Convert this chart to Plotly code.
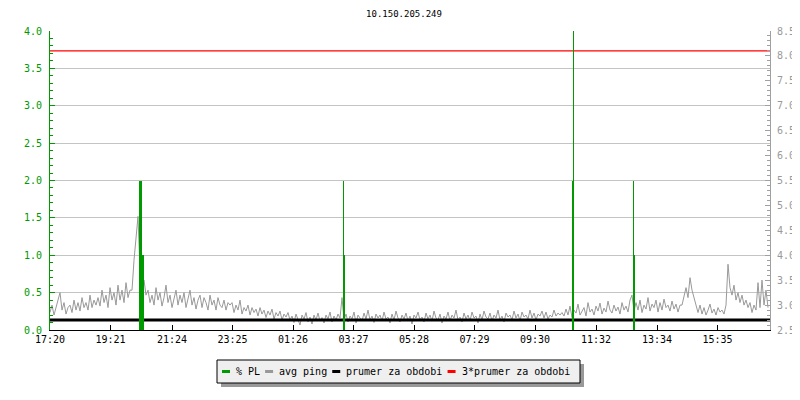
import plotly.graph_objects as go

# ---------------- data ----------------
title_text = "10.150.205.249"

# x tick labels (minutes after 17:20 and their clock labels)
tick_minutes = [0, 121, 244, 365, 486, 607, 728, 849, 970, 1092, 1214, 1335]
tick_labels = ["17:20", "19:21", "21:24", "23:25", "01:26", "03:27",
               "05:28", "07:29", "09:30", "11:32", "13:34", "15:35"]

# avg ping [ms], one sample every 4 minutes starting 17:20 (right axis)
ping_step_min = 4
avg_ping = [
    # 17:20 - 18:56
    2.85, 3.0, 2.8, 2.95, 3.1, 3.25, 2.9, 3.05, 2.82, 2.95, 3.0, 2.85, 3.1, 2.9, 3.05, 2.88,
    3.15, 2.95, 3.05, 2.9, 3.2, 2.95, 3.1, 3.0, 3.15,
    # 19:00 - 20:00
    2.98, 3.3, 3.05, 3.2, 2.95, 3.35, 3.1, 3.25, 3.0, 3.4, 3.1, 3.3, 3.05, 3.45, 3.15, 3.3,
    # peak around 20:30
    3.3, 3.9, 4.3, 4.78,
    3.7, 3.35, 3.5, 3.2,
    # 20:36 - 23:20
    3.3, 3.05, 3.2, 3.0, 3.35, 3.1, 3.25, 2.98, 3.15, 3.4, 3.05, 3.2, 2.95, 3.15, 3.3, 3.0,
    3.2, 3.05, 3.25, 2.95, 3.1, 3.3, 3.0, 3.15, 2.92, 3.1, 3.2, 2.95, 3.15, 3.05, 2.9, 3.2,
    3.0, 3.1, 2.9, 3.15, 3.0, 2.95, 3.1, 2.9, 3.05, 3.0,
    # 23:24 - 01:20
    3.05, 2.85, 3.0, 2.9, 3.1, 2.82, 2.95, 2.88, 3.0, 2.8, 2.95, 2.85, 2.92, 2.78, 2.95, 2.82,
    2.9, 2.75, 2.88, 2.8, 2.92, 2.72, 2.85, 2.78, 2.88, 2.7, 2.82, 2.76, 2.85, 2.7,
    # 01:24 - 03:00
    2.78, 2.65, 2.82, 2.7, 2.6, 2.8, 2.72, 2.85, 2.66, 2.76, 2.62, 2.8, 2.7, 2.84, 2.68, 2.75,
    2.64, 2.8, 2.72, 2.86, 2.66, 2.78, 2.7, 2.82, 2.74,
    # 03:04
    3.15,
    # 03:08 - 10:20
    2.7, 2.82, 2.66, 2.78, 2.72, 2.86, 2.64, 2.8, 2.74, 2.68, 2.84, 2.72, 2.9, 2.7, 2.78, 2.65,
    2.82, 2.74, 2.8, 2.68, 2.86, 2.72, 2.76, 2.64, 2.82, 2.7, 2.88, 2.74, 2.66, 2.8, 2.72, 2.84,
    2.68, 2.78, 2.62, 2.8, 2.74, 2.86, 2.7, 2.76, 2.66, 2.84, 2.72, 2.8, 2.68, 2.88, 2.74, 2.7,
    2.82, 2.64, 2.78, 2.72, 2.86, 2.68, 2.8, 2.74, 2.9, 2.7, 2.76, 2.66, 2.84, 2.72, 2.8, 2.68,
    2.86, 2.74, 2.78, 2.64, 2.82, 2.7, 2.88, 2.76, 2.72, 2.84, 2.68, 2.8, 2.74, 2.9, 2.7, 2.78,
    2.66, 2.84, 2.76, 2.8, 2.7, 2.88, 2.74, 2.82, 2.68, 2.86, 2.76, 2.8, 2.72, 2.9, 2.74, 2.84,
    2.7, 2.82, 2.78, 2.88, 2.74, 2.86, 2.72, 2.8, 2.76, 2.9, 2.78, 2.84, 2.8,
    # 10:24 - 12:40
    2.85, 2.78, 2.92, 2.8, 2.98, 2.75, 2.9, 2.84, 3.02, 2.8, 2.88, 2.95, 2.78, 3.05, 2.86, 2.92,
    2.8, 2.98, 2.88, 3.04, 2.82, 2.94, 2.86, 3.08, 2.9, 2.84, 3.0, 2.88, 2.96, 2.82, 3.05, 2.9,
    2.98, 2.86, 3.1,
    # 12:44
    3.2,
    # 12:48 - 14:20
    2.88, 3.05, 2.9, 3.1, 2.85, 3.0, 2.92, 3.15, 2.88, 3.02, 2.95, 3.1, 2.86, 3.05, 2.9, 3.12,
    2.95, 3.0, 2.88, 3.08, 2.92, 3.02, 2.86, 3.0,
    # 14:24 - 14:48
    3.0, 3.2, 3.35, 3.15, 3.55, 3.3, 3.15,
    # 14:52 - 15:52
    2.95, 2.85, 3.0, 2.82, 2.95, 2.8, 2.9, 3.02, 2.84, 2.92, 2.8, 2.95, 2.86, 2.9, 2.82, 3.0,
    # 15:56
    3.82,
    # 16:00 - 16:32
    3.35, 3.2, 3.4, 3.1, 3.25, 3.05, 3.2, 3.0, 3.1,
    # 16:36 - 17:16
    2.95, 3.05, 2.85, 3.0, 2.9, 3.45, 2.95, 3.5, 3.0, 3.3, 2.95,
]

# % packet loss (left axis): average per interval and interval maximum
pl_time = [181, 185, 588, 1046, 1168]
pl_avg = [2.0, 1.0, 1.0, 2.0, 1.0]
pl_max_time = [587, 1047, 1167]
pl_max = [2.0, 4.0, 2.0]

prumer = 2.70          # average ping over the period [ms]
trojnasobek = 3 * prumer
period_minutes = 1440

legend_names = ["% PL", "avg ping", "prumer za obdobi", "3*prumer za obdobi"]
legend_colors = ["#009900", "#999999", "#000000", "#ff0000"]

# ---------------- figure ----------------
MONO = "DejaVu Sans Mono"
GREEN = "#009900"
GRAY = "#999999"

# the page body has an 8px margin, so the figure is made 8px smaller
FIG_W, FIG_H = 792, 392
M_L, M_R, M_T, M_B = 42, 30, 23, 70

ping_time = [i * ping_step_min for i in range(len(avg_ping))]

fig = go.Figure()
fig.add_trace(go.Scatter(x=ping_time, y=avg_ping, mode="lines", name="avg ping",
                         line=dict(color=GRAY, width=1), yaxis="y", showlegend=False))
fig.add_trace(go.Scatter(x=[0, period_minutes], y=[prumer, prumer], mode="lines",
                         name="prumer za obdobi", line=dict(color="#000000", width=3),
                         yaxis="y", showlegend=False))
fig.add_trace(go.Scatter(x=[0, period_minutes], y=[trojnasobek, trojnasobek], mode="lines",
                         name="3*prumer za obdobi", line=dict(color="#ff0000", width=1.2),
                         yaxis="y", showlegend=False))
fig.add_trace(go.Bar(x=pl_max_time, y=pl_max, width=2, name="% PL max",
                     marker=dict(color=GREEN, line=dict(width=0)), yaxis="y2",
                     showlegend=False))
fig.add_trace(go.Bar(x=pl_time, y=pl_avg, width=4.5, name="% PL",
                     marker=dict(color=GREEN, line=dict(width=0)), yaxis="y2",
                     showlegend=False))

fig.update_layout(
    width=FIG_W, height=FIG_H,
    margin=dict(l=M_L, r=M_R, t=M_T, b=M_B),
    paper_bgcolor="white", plot_bgcolor="white",
    barmode="overlay", bargap=0,
    showlegend=False,
    font=dict(family=MONO, size=10, color="black"),
    title=dict(text=title_text, x=0.5, xanchor="center", y=0.985, yanchor="middle",
               xref="container", yref="container",
               font=dict(family=MONO, size=9, color="black")),
    xaxis=dict(range=[0, period_minutes], tickmode="array", tickvals=tick_minutes,
               ticktext=tick_labels, ticks="inside", ticklen=5, tickcolor="black",
               showline=True, linecolor="black", linewidth=1, showgrid=False,
               zeroline=False, automargin=False,
               tickfont=dict(family=MONO, size=10, color="black")),
    yaxis=dict(range=[2.5, 8.5], side="right", dtick=0.5, tick0=2.5, tickformat=".1f",
               showgrid=False, zeroline=False, showline=True, linecolor="#a0a0a0",
               ticks="inside", ticklen=5, tickcolor="#a0a0a0", automargin=False,
               minor=dict(ticks="inside", dtick=0.1, ticklen=3, tickcolor="#a0a0a0"),
               tickfont=dict(family=MONO, size=10, color="#999999"),
               ticklabelstandoff=4),
    yaxis2=dict(range=[0, 4], side="left", overlaying="y", dtick=0.5, tick0=0,
                tickformat=".1f", showgrid=True, gridcolor="#c4c4c4", gridwidth=1,
                zeroline=False, showline=True, linecolor=GREEN, automargin=False,
                ticks="inside", ticklen=5, tickcolor=GREEN,
                minor=dict(ticks="inside", dtick=0.1, ticklen=3, tickcolor=GREEN),
                tickfont=dict(family=MONO, size=10, color=GREEN),
                ticklabelstandoff=5),
)

# ---- manual legend box (rrdtool style), positions in window pixels ----
PLOT_X0 = 8 + M_L
PLOT_W = FIG_W - M_L - M_R
PLOT_Y1 = 8 + FIG_H - M_B
PLOT_H = FIG_H - M_T - M_B

def px_x(p):
    return (p - PLOT_X0) / PLOT_W

def px_y(p):
    return (PLOT_Y1 - p) / PLOT_H

box_l, box_r, box_t, box_b = 217, 580, 360, 383
shadow = 4
fig.add_shape(type="rect", xref="paper", yref="paper", layer="below",
              x0=px_x(box_l + shadow), x1=px_x(box_r + shadow),
              y0=px_y(box_b + shadow), y1=px_y(box_t + shadow),
              fillcolor="#999999", line=dict(width=0))
fig.add_shape(type="rect", xref="paper", yref="paper",
              x0=px_x(box_l), x1=px_x(box_r), y0=px_y(box_b), y1=px_y(box_t),
              fillcolor="#efefef", line=dict(color="black", width=1))

char_w = 6.02
cursor = 222
mid_y = 371.5
for name, col in zip(legend_names, legend_colors):
    fig.add_shape(type="line", xref="paper", yref="paper",
                  x0=px_x(cursor), x1=px_x(cursor + 8), y0=px_y(mid_y), y1=px_y(mid_y),
                  line=dict(color=col, width=3))
    tx = cursor + 13
    fig.add_annotation(text=name, xref="paper", yref="paper", x=px_x(tx), y=px_y(mid_y),
                       xanchor="left", yanchor="middle", showarrow=False,
                       font=dict(family=MONO, size=10, color="black"), borderpad=0)
    cursor = tx + len(name) * char_w + 6

fig.write_html("out.html")
